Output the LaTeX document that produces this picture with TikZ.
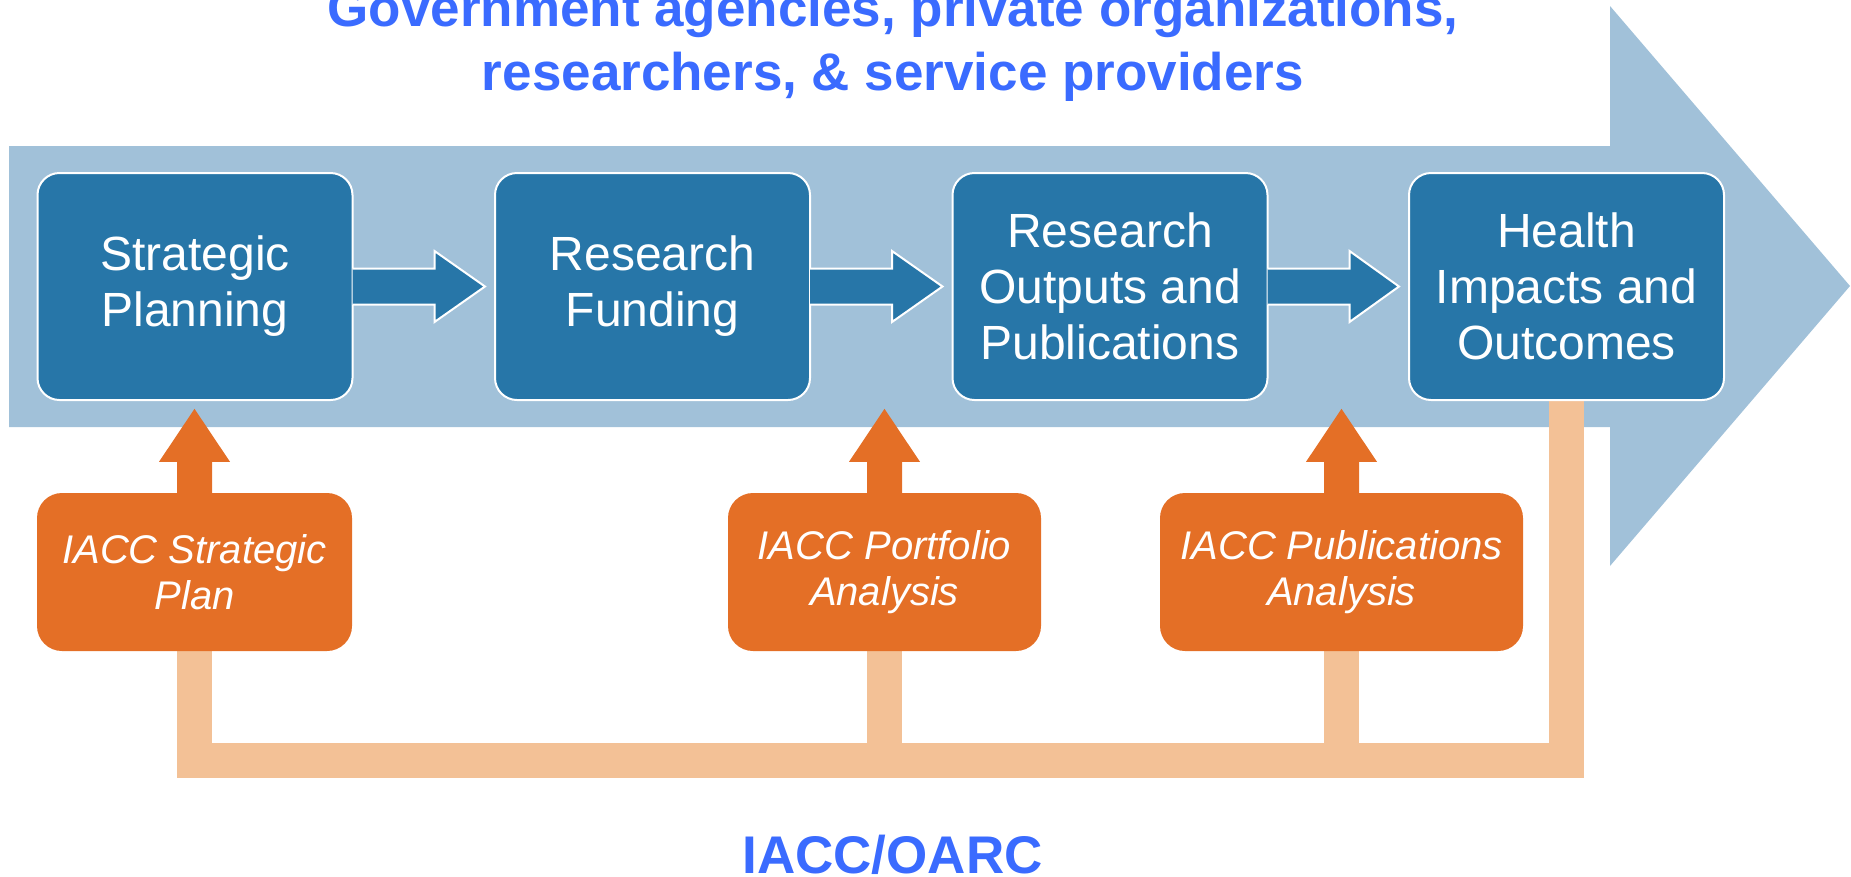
\documentclass[tikz,border=0pt]{standalone}
\usepackage{fontspec}
\setmainfont{Liberation Sans}
\usetikzlibrary{calc}
\definecolor{bandc}{HTML}{A1C1D9}
\definecolor{boxc}{HTML}{2776A8}
\definecolor{orgc}{HTML}{E46F26}
\definecolor{feedc}{HTML}{F3C196}
\definecolor{titlec}{HTML}{3A6BFF}
\pgfdeclarelayer{bottomlayer}
\pgfdeclarelayer{background}
\pgfsetlayers{bottomlayer,background,main}
\newcommand\ToolArrowUp[1]{%
  \fill[toolarrow] ($(#1.north)+(-17.5,3)$) -- ($(#1.north)+(-17.5,-31)$) -- ($(#1.north)+(-35.5,-31)$) -- ($(#1.north)+(0,-84)$) -- ($(#1.north)+(35.5,-31)$) -- ($(#1.north)+(17.5,-31)$) -- ($(#1.north)+(17.5,3)$) -- cycle;}
\newcommand\FlowArrowRight[2]{%
  \path[flowarrow] ($(#1.east)+(-1,-18)$) -- ($(#1.east)+(81,-18)$) -- ($(#1.east)+(81,-35.5)$) -- ($(#2.west)+(-9,0)$) -- ($(#1.east)+(81,35.5)$) -- ($(#1.east)+(81,18)$) -- ($(#1.east)+(-1,18)$);}
\begin{document}
\begin{tikzpicture}[x=1pt,y=-1pt,
  stagebox/.style={draw=white, line width=2pt, fill=boxc, rounded corners=22pt, minimum width=315pt, minimum height=227pt, inner sep=0pt, align=center, text=white, font=\fontsize{48}{56}\selectfont},
  toolbox/.style={fill=orgc, rounded corners=25pt, minimum height=158pt, inner sep=0pt, align=center, text=white, font=\fontsize{40}{46}\selectfont\itshape},
  titletext/.style={text=titlec, font=\fontsize{53}{64}\selectfont\bfseries, inner sep=0pt, anchor=base},
  feedline/.style={draw=feedc, line width=35pt, line join=miter},
  flowarrow/.style={fill=boxc, draw=white, line width=2pt, line join=miter},
  toolarrow/.style={fill=orgc},
]
\useasboundingbox (0,0) rectangle (1851,876);
\begin{pgfonlayer}{bottomlayer}
\fill[bandc] (9,146) -- (1610,146) -- (1610,6) -- (1850,286) -- (1610,566) -- (1610,427) -- (9,427) -- cycle;
\end{pgfonlayer}
\coordinate (barY) at (0,760);
% stages
\node[stagebox] (b1) at (195,286.5) {Strategic\\Planning};
\node[stagebox] (b2) at (652.5,286.5) {Research\\Funding};
\node[stagebox] (b3) at (1110,286.5) {Research\\Outputs and\\Publications};
\node[stagebox] (b4) at (1566.5,286.5) {Health\\Impacts and\\Outcomes};
\FlowArrowRight{b1}{b2}
\FlowArrowRight{b2}{b3}
\FlowArrowRight{b3}{b4}
% tools
\node[toolbox, minimum width=315pt] (o1) at (194.5,572) {IACC Strategic\\Plan};
\node[toolbox, minimum width=313pt] (o2) at (884.5,572) {IACC Portfolio\\Analysis};
\node[toolbox, minimum width=363pt] (o3) at (1341.5,572) {IACC Publications\\Analysis};
\ToolArrowUp{o1}
\ToolArrowUp{o2}
\ToolArrowUp{o3}
% feedback
\begin{pgfonlayer}{background}
\draw[feedline] (o1.south) -- (o1.south |- barY) -- (b4.south |- barY) -- (b4.south);
\draw[feedline] (o2.south) -- (o2.south |- barY);
\draw[feedline] (o3.south) -- (o3.south |- barY);
\end{pgfonlayer}
% titles
\node[titletext] (top1) at (893,26) {Government agencies, private organizations,};
\node[titletext] (top2) at (893,90) {researchers, \& service providers};
\node[titletext] (bottom) at (892.5,873) {IACC/OARC};
\end{tikzpicture}
\end{document}
